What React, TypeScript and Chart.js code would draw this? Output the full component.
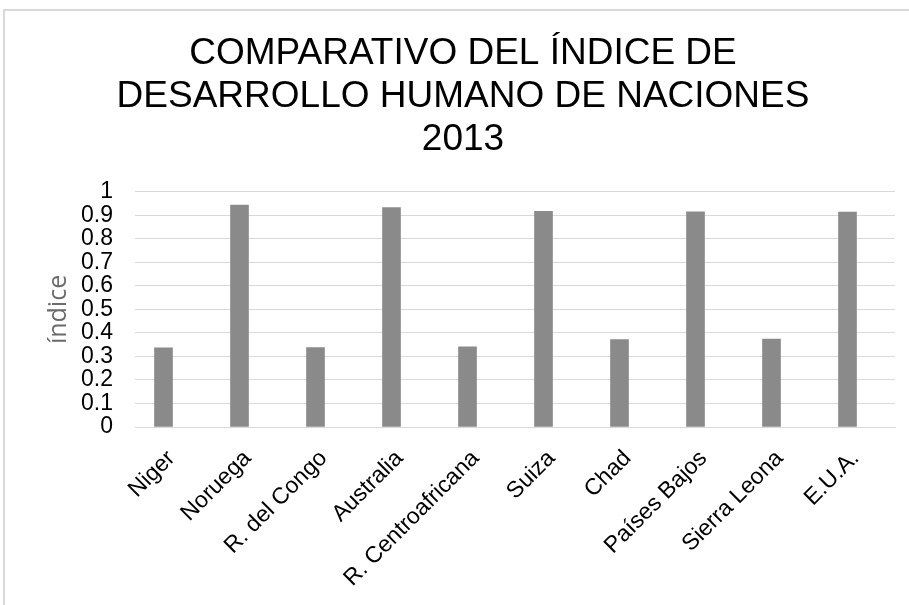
import React, { useEffect, useRef } from "react";
import { Chart, registerables } from "chart.js";

Chart.register(...registerables);

const categories = [
  "Niger",
  "Noruega",
  "R. del Congo",
  "Australia",
  "R. Centroafricana",
  "Suiza",
  "Chad",
  "Países Bajos",
  "Sierra Leona",
  "E.U.A.",
];
const hdiValues = [0.337, 0.944, 0.338, 0.933, 0.341, 0.917, 0.372, 0.915, 0.374, 0.914];
const titleLines = ["COMPARATIVO DEL ÍNDICE DE", "DESARROLLO HUMANO DE NACIONES", "2013"];
const yAxisTitle = "índice";
const yMin = 0;
const yMax = 1;
const yStep = 0.1;
// category axis range (index units); bars sit slightly left of the gridline span
const xMin = -0.375;
const xMax = 9.625;

export default function App() {
  const ref = useRef<HTMLCanvasElement | null>(null);

  useEffect(() => {
    if (!ref.current) return;
    const points = hdiValues.map((v, i) => ({ x: i, y: v }));
    const chart = new Chart(ref.current, {
      type: "bar",
      data: {
        datasets: [
          {
            label: "Índice",
            data: points,
            backgroundColor: "#8a8a8a",
            borderWidth: 0,
            barThickness: 18,
          },
        ],
      },
      options: {
        animation: false,
        responsive: false,
        maintainAspectRatio: false,
        layout: { padding: { left: 31, right: 14, top: 0, bottom: 0 } },
        plugins: {
          legend: { display: false },
          tooltip: { enabled: false },
          title: {
            display: true,
            text: titleLines,
            color: "#000000",
            font: { family: "'Liberation Sans', Arial, sans-serif", size: 37, weight: "normal", lineHeight: 1.17 },
            padding: { top: 32, bottom: 30 },
          },
        },
        scales: {
          x: {
            type: "linear",
            min: xMin,
            max: xMax,
            offset: false,
            grid: { display: false, drawTicks: false },
            border: { display: true, color: "#d9d9d9", width: 1 },
            afterBuildTicks: (scale: any) => {
              scale.ticks = categories.map((_, i) => ({ value: i }));
            },
            ticks: {
              color: "#000000",
              font: { family: "'Liberation Sans', Arial, sans-serif", size: 23 },
              maxRotation: 45,
              minRotation: 45,
              autoSkip: false,
              padding: 18,
              labelOffset: 8,
              callback: (v: any) => {
                const n = Math.round(Number(v));
                return categories[n] !== undefined ? categories[n] : "";
              },
            },
            afterFit: (scale: any) => {
              scale.height = 178;
            },
          },
          y: {
            min: yMin,
            max: yMax,
            grid: { color: "#d9d9d9", lineWidth: 1, drawTicks: false },
            border: { display: false },
            ticks: {
              stepSize: yStep,
              autoSkip: false,
              color: "#000000",
              padding: 22,
              font: { family: "'Liberation Sans', Arial, sans-serif", size: 23 },
              callback: (v: any) => String(Math.round(Number(v) * 10) / 10),
            },
            title: {
              display: true,
              text: yAxisTitle,
              color: "#6b6b6b",
              font: { family: "'Open Sans', sans-serif", size: 25, weight: "normal" },
              padding: { top: 13, bottom: 0 },
            },
            afterFit: (scale: any) => {
              scale.width = 104;
            },
          },
        },
      },
    });
    return () => chart.destroy();
  }, []);

  return (
    <div style={{ position: "fixed", left: 0, top: 0, width: 909, height: 605, overflow: "hidden", background: "#ffffff" }}>
      <div
        style={{
          position: "absolute",
          left: 3,
          top: 9,
          width: 1000,
          height: 1000,
          border: "2px solid #d9d9d9",
          boxSizing: "border-box",
        }}
      />
      <canvas ref={ref} width={909} height={605} style={{ position: "absolute", left: 0, top: 0, width: 909, height: 605 }} />
    </div>
  );
}
